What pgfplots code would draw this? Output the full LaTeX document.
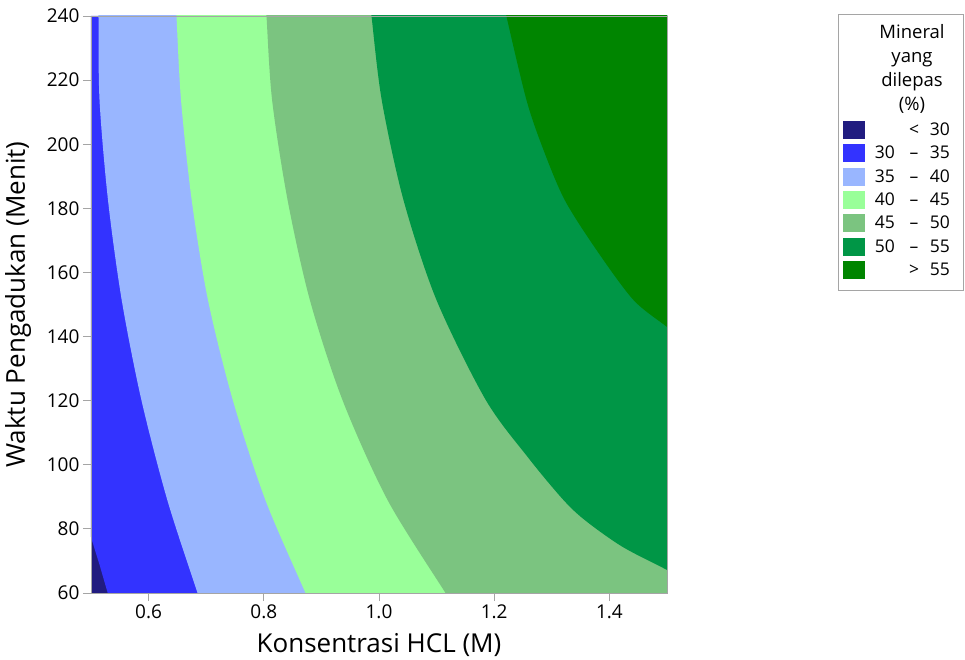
\documentclass[border=0pt]{standalone}
\usepackage{fontspec}
\setmainfont{Open Sans}
\usepackage{pgfplots}
\pgfplotsset{compat=1.18}
\definecolor{cA}{RGB}{33,28,128}
\definecolor{cB}{RGB}{51,51,255}
\definecolor{cC}{RGB}{153,182,255}
\definecolor{cD}{RGB}{153,255,153}
\definecolor{cE}{RGB}{123,196,128}
\definecolor{cF}{RGB}{0,150,70}
\definecolor{cG}{RGB}{0,133,0}
\definecolor{frame}{RGB}{165,165,165}
\begin{document}
\begin{tikzpicture}
\useasboundingbox (-91pt,-66pt) rectangle (874pt,593pt);
\begin{axis}[
  width=576pt, height=577pt, scale only axis,
  xmin=0.5, xmax=1.5, ymin=60, ymax=240,
  xtick={0.6,0.8,1.0,1.2,1.4},
  ytick={60,80,...,240},
  tick align=outside, major tick length=8pt,
  tick pos=left,
  axis on top,
  axis line style={frame, line width=0.8pt},
  tick style={frame, line width=0.8pt},
  /pgf/number format/assume math mode=true,
  tick label style={font=\fontsize{19}{22}\selectfont},
  xticklabel style={/pgf/number format/.cd, fixed, fixed zerofill, precision=1},
  label style={font=\fontsize{26}{30}\selectfont},
  xlabel={Konsentrasi HCL (M)},
  ylabel={Waktu Pengadukan (Menit)},
  xlabel style={at={(axis description cs:0.5,-0.1023)}, anchor=base},
  ylabel style={at={(axis description cs:-0.1146,0.5)}, anchor=base},
]
% < 30 (background)
\addplot[fill=cA, draw=none] coordinates {(0.5,60) (1.5,60) (1.5,240) (0.5,240)} -- cycle;
% 30 - 35
\addplot[fill=cB, draw=none] coordinates {(0.5,240) (0.5,77.4) (0.515,68.7) (0.529,60) (1.5,60) (1.5,240)} -- cycle;
% 35 - 40  (region right of the 35 contour)
\addplot[fill=cC, draw=none, smooth] coordinates {(0.5128,245) (0.5130,240) (0.5148,213.8) (0.5295,182.6) (0.5533,151.4) (0.5875,120.2) (0.6325,89.0) (0.6849,60) (0.694,55) (2.0,50) (2.0,250)};
% 40 - 45
\addplot[fill=cD, draw=none, smooth] coordinates {(0.647,245) (0.6484,240) (0.6563,213.8) (0.6748,182.6) (0.7031,151.4) (0.7462,120.2) (0.8028,89.0) (0.8724,60) (0.884,55) (2.0,50) (2.0,250)};
% 45 - 50
\addplot[fill=cE, draw=none, smooth] coordinates {(0.803,245) (0.8047,240) (0.8144,213.8) (0.8413,182.6) (0.8800,151.4) (0.9366,120.2) (1.0149,89.0) (1.1155,60) (1.133,55) (2.0,50) (2.0,250)};
% 50 - 55
\addplot[fill=cF, draw=none, smooth] coordinates {(0.984,245) (0.9870,240) (1.0047,213.8) (1.0425,182.6) (1.0998,151.4) (1.1854,120.2) (1.2600,102.0) (1.3203,89.0) (1.3590,82.5) (1.4228,74.4) (1.5,67.2) (1.55,62.5) (2.0,50) (2.0,250)};
% > 55
\addplot[fill=cG, draw=none, smooth] coordinates {(1.217,245) (1.2212,240) (1.2560,213.8) (1.2856,198.2) (1.3224,182.6) (1.3776,167.0) (1.4418,151.4) (1.5,143.0) (1.55,135.8) (2.0,120) (2.0,250)};
\end{axis}
% legend
\draw[frame, line width=0.8pt] (747pt,303pt) rectangle (872pt,579pt);
\node[align=center, font=\fontsize{18.5}{24}\selectfont] at (821pt,524pt) {Mineral\\yang\\dilepas\\(\%)};
\foreach \yy/\col/\a/\b/\c in {463/cA//</30, 440/cB/30/--/35, 416/cC/35/--/40, 393/cD/40/--/45, 370/cE/45/--/50, 346/cF/50/--/55, 323/cG//>/55}{
  \fill[\col] (752pt,\yy pt-9pt) rectangle (774pt,\yy pt+9pt);
  \node[anchor=base east, inner sep=0pt, font=\fontsize{17.5}{20}\selectfont] at (804pt,\yy pt-6pt) {\a};
  \node[anchor=base, inner sep=0pt, font=\fontsize{17.5}{20}\selectfont] at (823pt,\yy pt-6pt) {\b};
  \node[anchor=base east, inner sep=0pt, font=\fontsize{17.5}{20}\selectfont] at (859pt,\yy pt-6pt) {\c};
}
\end{tikzpicture}
\end{document}
